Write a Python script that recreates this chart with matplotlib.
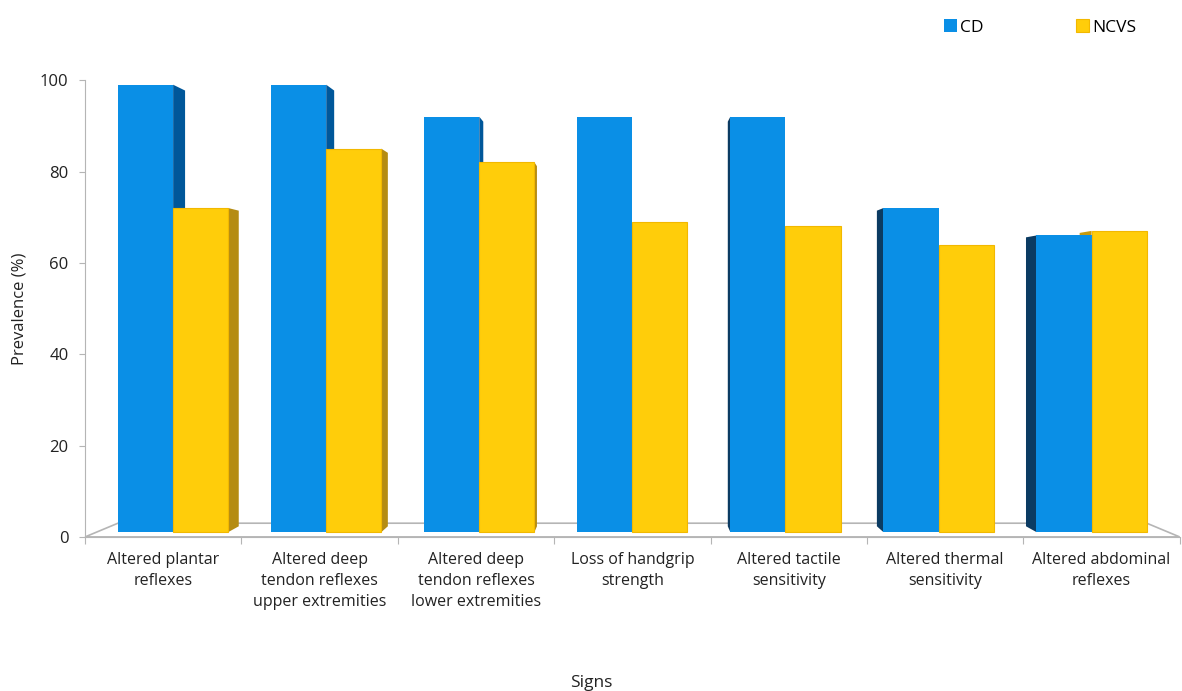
import matplotlib.pyplot as plt
from matplotlib.patches import Polygon

# --- data ---
signs = ["Altered plantar\nreflexes",
         "Altered deep\ntendon reflexes\nupper extremities",
         "Altered deep\ntendon reflexes\nlower extremities",
         "Loss of handgrip\nstrength",
         "Altered tactile\nsensitivity",
         "Altered thermal\nsensitivity",
         "Altered abdominal\nreflexes"]
cd = [99, 99, 92, 92, 92, 72, 66]
ncvs = [72, 85, 82, 69, 68, 64, 67]
yticks = [0, 20, 40, 60, 80, 100]

BLUE = "#0a8fe6"
YELLOW = "#ffcd0a"
plt.rcParams["font.family"] = ["Open Sans", "DejaVu Sans"]

fig = plt.figure(figsize=(11.82, 6.91), dpi=100)
ax = fig.add_axes([0.072, 0.223, 0.926, 0.661])

n = len(signs)
w = 0.36
vx, vy = (n - 1) / 2, 50      # rough vanishing point for the fake 3D look
k_front, k_bar, k_floor = 0.021, 0.026, 0.06


def persp(x, y, k):
    return x + k * (vx - x), y + k * (vy - y)


def side_face(x0, x1, h, dark_l, dark_r):
    # pick the side that faces the middle of the chart
    if (x0 + x1) / 2 < vx:
        xe, col = x1, dark_r
    else:
        xe, col = x0, dark_l
    b = k_front * vy
    pts = [(xe, b), (xe, h), persp(xe, h, k_bar), persp(xe, b, k_bar)]
    ax.add_patch(Polygon(pts, closed=True, facecolor=col, edgecolor="none",
                         zorder=2, clip_on=False))


# floor outline
fx0, fx1 = -0.5, n - 0.5
floor = [(fx0, 0), (fx1, 0), persp(fx1, 0, k_floor), persp(fx0, 0, k_floor)]
ax.add_patch(Polygon(floor, closed=True, fill=False, edgecolor="#b5b5b5",
                     lw=1.2, zorder=1, clip_on=False))

# bars sit a little behind the front edge of the floor
ws = w * (1 - k_front)
base = k_front * vy
cd_x = [persp(i - w / 2, 0, k_front)[0] for i in range(n)]
nc_x = [persp(i + w / 2, 0, k_front)[0] for i in range(n)]

for i in range(n):
    side_face(cd_x[i] - ws / 2, cd_x[i] + ws / 2, cd[i], "#0b3b62", "#00579a")
    side_face(nc_x[i] - ws / 2, nc_x[i] + ws / 2, ncvs[i], "#c79a0c", "#b58c12")

ax.bar(cd_x, [v - base for v in cd], bottom=base, width=ws, color=BLUE,
       zorder=3, clip_on=False, label="CD")
ax.bar(nc_x, [v - base for v in ncvs], bottom=base, width=ws, color=YELLOW,
       edgecolor="#f2b800", linewidth=0.8, zorder=3, clip_on=False,
       label="NCVS")

ax.set_xlim(-0.5, n - 0.5)
ax.set_ylim(0, 100)
ax.set_yticks(yticks)
ax.tick_params(axis="y", length=4, color="#b5b5b5", labelsize=12,
               labelcolor="#222222", pad=8)

# category boundaries as ticks, labels at the centres
ax.set_xticks([i - 0.5 for i in range(n + 1)])
ax.set_xticklabels([])
ax.set_xticks(range(n), minor=True)
ax.set_xticklabels(signs, minor=True, fontsize=11.5, color="#222222",
                   linespacing=1.4)
ax.tick_params(axis="x", which="major", length=5, color="#b5b5b5")
ax.tick_params(axis="x", which="minor", length=0, pad=11)

for s in ["top", "right"]:
    ax.spines[s].set_visible(False)
ax.spines["left"].set_color("#b5b5b5")
ax.spines["bottom"].set_color("#b5b5b5")

ax.set_ylabel("Prevalence (%)", fontsize=12, color="#222222")
ax.yaxis.set_label_coords(-0.053, 0.5)
fig.text(0.5, 0.0, "Signs", ha="center", va="bottom", fontsize=12.5,
         color="#222222")

ax.legend(loc="upper left", bbox_to_anchor=(0.77, 1.168), ncol=2, frameon=False,
          fontsize=12.5, handlelength=0.75, handleheight=0.8, handletextpad=0.2,
          columnspacing=5.3)

plt.savefig("out.png", dpi=100)
